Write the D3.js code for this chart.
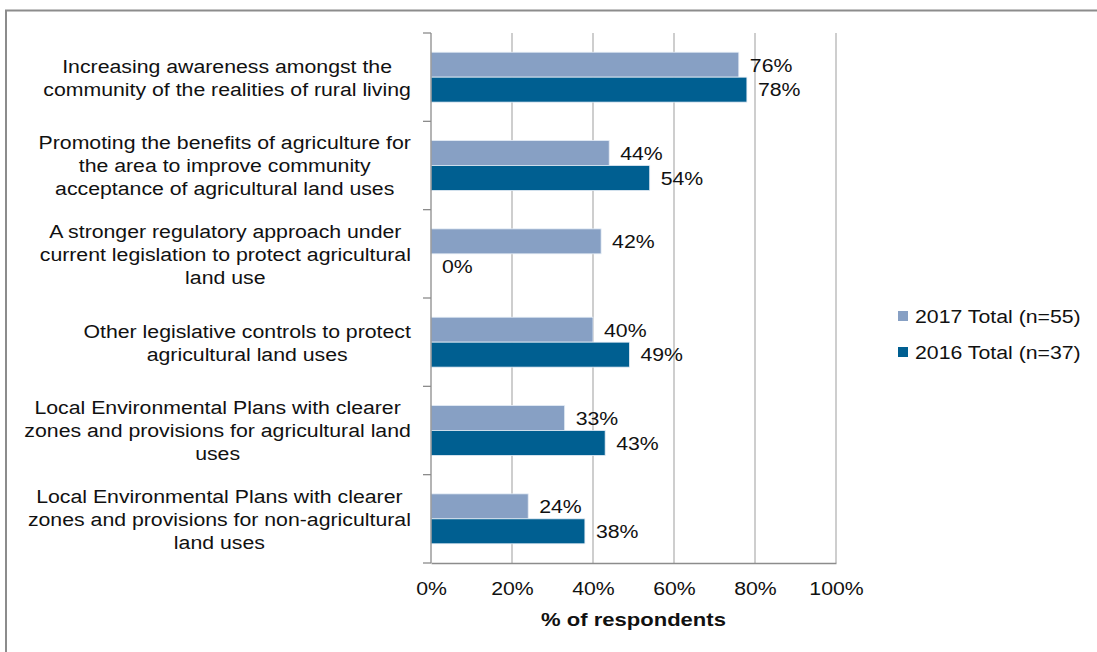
<!DOCTYPE html>
<html>
<head>
<meta charset="utf-8">
<script src="https://cdn.jsdelivr.net/npm/d3@7"></script>
<style>
  html, body { margin: 0; padding: 0; background: #fff; }
  svg { display: block; font-family: "Liberation Sans", Arial, sans-serif; }
</style>
</head>
<body>
<svg id="chart" width="1097" height="652"></svg>
<script>
// Survey options, top to bottom, each split into its wrapped lines
const categories = [
  ["Increasing awareness amongst the", "community of the realities of rural living"],
  ["Promoting the benefits of agriculture for", "the area to improve community", "acceptance of agricultural land uses"],
  ["A stronger regulatory approach under", "current legislation to protect agricultural", "land use"],
  ["Other legislative controls to protect", "agricultural land uses"],
  ["Local Environmental Plans with clearer", "zones and provisions for agricultural land", "uses"],
  ["Local Environmental Plans with clearer", "zones and provisions for non-agricultural", "land uses"]
];
const seriesNames = ["2017 Total (n=55)", "2016 Total (n=37)"];
const values2017 = [76, 44, 42, 40, 33, 24];
const values2016 = [78, 54, 0, 49, 43, 38];
const xTicks = [0, 20, 40, 60, 80, 100];
const axisTitle = "% of respondents";

const colors = ["#87a0c4", "#005f91"];
const series = [values2017, values2016];

const FS = "19px";
const SX = 1.12;        // wide-set lettering
const INK = "#111";

const svg = d3.select("#chart");

// text placed at (x, y) and widened horizontally about its anchor
function wideText(parent, x, y, sx) {
  return parent.append("g")
    .attr("transform", `translate(${x},${y}) scale(${sx || SX},1)`)
    .append("text")
    .attr("font-size", FS)
    .attr("fill", INK);
}

// outer frame
svg.append("path")
  .attr("d", "M6,652 L6,10.5 L1097,10.5")
  .attr("fill", "none")
  .attr("stroke", "#8c8c8c")
  .attr("stroke-width", 2);

const plot = { left: 431, right: 836, top: 33, bottom: 563 };

const x = d3.scaleLinear().domain([0, 100]).range([plot.left, plot.right]);
const y = d3.scaleBand().domain(d3.range(categories.length)).range([plot.top, plot.bottom]);
const inner = d3.scaleBand().domain([0, 1]).range([0, y.bandwidth()]).paddingInner(0).paddingOuter(0.77);

// vertical gridlines
svg.append("g")
  .selectAll("line")
  .data(xTicks.filter(t => t > 0))
  .join("line")
  .attr("x1", d => x(d)).attr("x2", d => x(d))
  .attr("y1", plot.top).attr("y2", plot.bottom)
  .attr("stroke", "#b4b4b4")
  .attr("stroke-width", 1.3);

// bars and their value labels
const labelG = svg.append("g");
series.forEach((vals, si) => {
  svg.append("g")
    .selectAll("rect")
    .data(vals)
    .join("rect")
    .attr("x", x(0))
    .attr("y", (d, i) => y(i) + inner(si))
    .attr("width", d => x(d) - x(0))
    .attr("height", inner.bandwidth())
    .attr("fill", colors[si])
    .attr("stroke", d => d > 0 ? "#e4ecf5" : "none")
    .attr("stroke-width", 0.8);

  vals.forEach((d, i) => {
    wideText(labelG, x(d) + 11, y(i) + inner(si) + inner.bandwidth() / 2)
      .attr("dy", "0.36em")
      .text(d + "%");
  });
});

// category (left) axis: spine and boundary ticks
svg.append("line")
  .attr("x1", plot.left).attr("x2", plot.left)
  .attr("y1", plot.top).attr("y2", plot.bottom)
  .attr("stroke", "#8c8c8c").attr("stroke-width", 1.3);
svg.append("g")
  .selectAll("line")
  .data(d3.range(categories.length + 1))
  .join("line")
  .attr("x1", plot.left - 8).attr("x2", plot.left)
  .attr("y1", d => plot.top + d * y.step())
  .attr("y2", d => plot.top + d * y.step())
  .attr("stroke", "#8c8c8c").attr("stroke-width", 1.3);

// category labels: each block is right-aligned to the axis, lines centred within it
const lineH = 23;
const labelRight = 411;
const catG = svg.append("g");
categories.forEach((lines, i) => {
  const cy = y(i) + y.bandwidth() / 2;
  const holder = catG.append("g");
  const t = holder.append("text")
    .attr("font-size", FS)
    .attr("fill", INK)
    .attr("text-anchor", "middle");
  const spans = lines.map((ln, j) => t.append("tspan")
    .attr("x", 0)
    .attr("y", (j - (lines.length - 1) / 2) * lineH)
    .attr("dy", "0.36em")
    .text(ln));
  const maxW = d3.max(spans, s => s.node().getComputedTextLength()) * SX;
  holder.attr("transform", `translate(${labelRight - maxW / 2},${cy}) scale(${SX},1)`);
});

// value axis
const xAxis = svg.append("g")
  .attr("transform", `translate(0,${plot.bottom})`)
  .call(d3.axisBottom(x).tickValues(xTicks).tickSize(0).tickPadding(19).tickFormat(d => d + "%"));
xAxis.select(".domain").attr("stroke", "#8c8c8c").attr("stroke-width", 1.3);
xAxis.selectAll("text")
  .attr("font-size", FS)
  .attr("font-family", "Liberation Sans, Arial, sans-serif")
  .attr("fill", INK)
  .attr("transform", `scale(${SX},1)`);

wideText(svg, (plot.left + plot.right) / 2, 626, 1.16)
  .attr("text-anchor", "middle")
  .attr("font-weight", "bold")
  .text(axisTitle);

// legend
const legend = svg.append("g");
seriesNames.forEach((name, i) => {
  const ly = 316 + i * 36;
  legend.append("rect")
    .attr("x", 898).attr("y", ly - 5)
    .attr("width", 10).attr("height", 10)
    .attr("fill", colors[i]);
  wideText(legend, 915, ly)
    .attr("dy", "0.36em")
    .text(name);
});
</script>
</body>
</html>
